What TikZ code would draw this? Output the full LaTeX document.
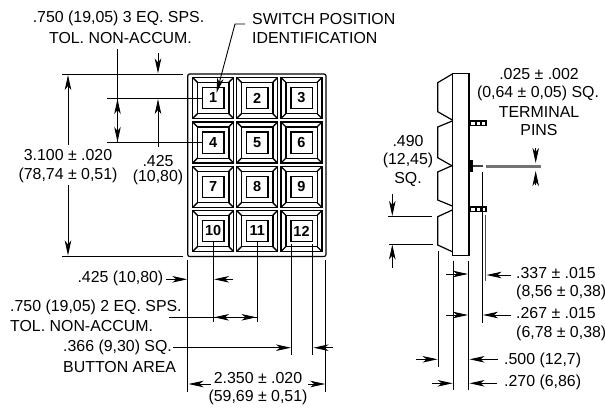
\documentclass[tikz,border=0pt]{standalone}
\usepackage{fontspec}
\setmainfont{Liberation Sans}
\usetikzlibrary{arrows.meta}
\definecolor{pingray}{gray}{0.45}
\tikzset{
  x=1pt,y=-1pt,
  dim/.style={line width=0.9pt,-{Stealth[length=15pt,width=6.5pt,inset=4pt]}},
  ext/.style={line width=0.95pt},
  lab/.style={inner sep=0pt,font=\fontsize{15.9}{15.9}\selectfont,anchor=center},
  labl/.style={lab,anchor=west},
  labr/.style={lab,anchor=east},
  btn/.style={line width=1.4pt},
  num/.style={inner sep=0pt,font=\fontsize{14.5}{14.5}\selectfont\bfseries},
}
\newcommand{\keybtn}[4]{% x y name text
  \begin{scope}[shift={(#1,#2)}]
    \draw[btn] (-20.5,-20.5) rectangle (20.5,20.5);
    \draw[btn] (-15.7,-15.7) rectangle (15.7,15.7);
    \draw[btn] (-10.7,-10.7) rectangle (10.7,10.7);
    \draw[btn] (-20.5,-20.5) -- (-15.7,-15.7) (20.5,-20.5) -- (15.7,-15.7)
               (-20.5,20.5) -- (-15.7,15.7) (20.5,20.5) -- (15.7,15.7);
    \node[num] (#3) at (0,0) {#4};
  \end{scope}}
\newcommand{\pinstrip}[3]{% x y name
  \fill[black] (#1,#2) rectangle ++(17.5,6);
  \foreach \k in {0,1,2}{\fill[white] ({#1+2+\k*5.2},{#2+1.5}) rectangle ++(3.4,3);}
  \coordinate (#3) at (#1,#2);}
\begin{document}
\begin{tikzpicture}
\useasboundingbox (0,0) rectangle (605,412);
% body
\draw[line width=1.2pt,rounded corners=2pt] (187.7,74) rectangle (326,256.5);
\keybtn{213.2}{98}{k1}{1}\keybtn{257.2}{98}{k2}{2}\keybtn{301.5}{98}{k3}{3}
\keybtn{213.2}{142.5}{k4}{4}\keybtn{257.2}{142.5}{k5}{5}\keybtn{301.5}{142.5}{k6}{6}
\keybtn{213.2}{187}{k7}{7}\keybtn{257.2}{187}{k8}{8}\keybtn{301.5}{187}{k9}{9}
\keybtn{213.2}{231}{k10}{10}\keybtn{257.2}{231}{k11}{11}\keybtn{301.5}{231}{k12}{12}
% top labels
\node[lab] (t1) at (118.5,18) {.750 (19,05) 3 EQ. SPS.};
\node[lab] (t2) at (120.5,38) {TOL. NON-ACCUM.};
\node[labl] (s1) at (252,19) {SWITCH POSITION};
\node[labl] (s2) at (252,38) {IDENTIFICATION};
\node[lab] (h1) at (68,155) {3.100 ± .020};
\node[lab] (h2) at (68,175) {(78,74 ± 0,51)};
\node[lab] (p1) at (158,161) {.425};
\node[lab] (p2) at (158,177) {(10,80)};
% extension lines left
\draw[ext] (62,74) -- (183,74);
\draw[ext] (62,256) -- (183,256);
\draw[ext] (107,98.3) -- (202.5,98.3);
\draw[ext] (107,142.5) -- (202.5,142.5);
% vertical dims left
\draw[ext] (117.5,49) -- (117.5,142);
\draw[dim] (117.5,120) -- (117.5,99);
\draw[dim] (117.5,122) -- (117.5,142);
\draw[dim] (158,53) -- (158,73.5);
\draw[dim] (158,147) -- (158,99);
\draw[dim] (68,145) -- (68,75);
\draw[dim] (68,185) -- (68,255.5);
% leader
\coordinate (ld) at (245,24);
\draw[dim] (ld) -- (235,24) -- (216.5,93);
% bottom ext
\draw[ext] (187.8,260) -- (187.8,391.7);
\draw[ext] (325.8,260) -- (325.8,391.7);
\draw[ext] (213.5,240.7) -- (213.5,321.7);
\draw[ext] (257,240.7) -- (257,321.7);
\draw[ext] (291.8,244) -- (291.8,355);
\draw[ext] (312.7,244) -- (312.7,355);
% bottom dims
\draw[dim] (166,279.3) -- (187.3,279.3);
\draw[dim] (233,279.3) -- (214,279.3);
\draw[ext] (169,317.3) -- (257,317.3);
\draw[dim] (230,317.3) -- (214,317.3);
\draw[dim] (240,317.3) -- (256.5,317.3);
\draw[dim] (173,347.7) -- (291,347.7);
\draw[dim] (333,347.7) -- (313.5,347.7);
\draw[dim] (210.7,384) -- (188.5,384);
\draw[dim] (308,384) -- (325.3,384);
% bottom labels
\node[labr] (b1) at (163.5,278.5) {.425 (10,80)};
\node[labl] (b2) at (10,307) {.750 (19,05) 2 EQ. SPS.};
\node[labl] (b3) at (10,326) {TOL. NON-ACCUM.};
\node[labl] (b4) at (63,347) {.366 (9,30) SQ.};
\node[labl] (b5) at (63,367) {BUTTON AREA};
\node[lab] (b6) at (258,378) {2.350 ± .020};
\node[lab] (b7) at (258,397) {(59,69 ± 0,51)};
% side view
\draw[line width=1.2pt] (452.3,73.5) rectangle (469,255.7);
\draw[line width=1.2pt] (452.3,74) -- (437.7,82.7) -- (437.7,111.7) -- (452.3,120);
\draw[line width=1.2pt] (452.3,121) -- (437.7,127) -- (437.7,157.7) -- (452.3,166);
\draw[line width=1.2pt] (452.3,165.5) -- (437.7,172) -- (437.7,200) -- (452.3,206);
\draw[line width=1.2pt] (452.3,210) -- (437.7,216.7) -- (437.7,245) -- (452.3,251.7);
\pinstrip{469.3}{120}{pa}
\pinstrip{469.3}{206}{pb}
\fill[black] (468.3,160) rectangle (472.7,172.3);
\fill[black!75] (472.7,164.6) rectangle (482.7,167.4);
\fill[pingray] (486,164.5) rectangle (540.7,167.5);
% side ext
\draw[ext] (482.6,172) -- (482.6,322.7);
\draw[ext,black!70] (485.8,215) -- (485.8,281);
\draw[ext] (453.3,260.7) -- (453.3,390);
\draw[ext] (468.8,260.7) -- (468.8,390);
\draw[ext] (438.3,251) -- (438.3,366.7);
\draw[ext] (388,216.7) -- (432,216.7);
\draw[ext] (389,244) -- (433,244);
% side dims
\draw[dim] (392.3,194) -- (392.3,216);
\draw[dim] (392.3,268) -- (392.3,244.5);
\draw[dim] (535.7,148) -- (535.7,163);
\draw[dim] (535.7,185) -- (535.7,171);
\draw[dim] (446,274) -- (468,274);
\draw[dim] (510.7,275) -- (486.5,275);
\draw[dim] (446,315) -- (468,315);
\draw[dim] (510.7,315) -- (483,315);
\draw[dim] (416,359.3) -- (437.6,359.3);
\draw[dim] (498,359.3) -- (469.5,359.3);
\draw[dim] (431.7,383.3) -- (452.7,383.3);
\draw[dim] (497,383.3) -- (469.5,383.3);
% side labels
\node[labl] (r1) at (516,273) {.337 ± .015};
\node[labl] (r2) at (516,292) {(8,56 ± 0,38)};
\node[labl] (r3) at (516,313) {.267 ± .015};
\node[labl] (r4) at (516,333) {(6,78 ± 0,38)};
\node[labl] (r5) at (504,360) {.500 (12,7)};
\node[labl] (r6) at (504,382) {.270 (6,86)};
\node[lab] (q1) at (539,74) {.025 ± .002};
\node[lab] (q2) at (538,93) {(0,64 ± 0,05) SQ.};
\node[lab] (q3) at (539,112) {TERMINAL};
\node[lab] (q4) at (539,130) {PINS};
\node[lab] (w1) at (408,141) {.490};
\node[lab] (w2) at (408,160) {(12,45)};
\node[lab] (w3) at (408,179) {SQ.};
\end{tikzpicture}
\end{document}
